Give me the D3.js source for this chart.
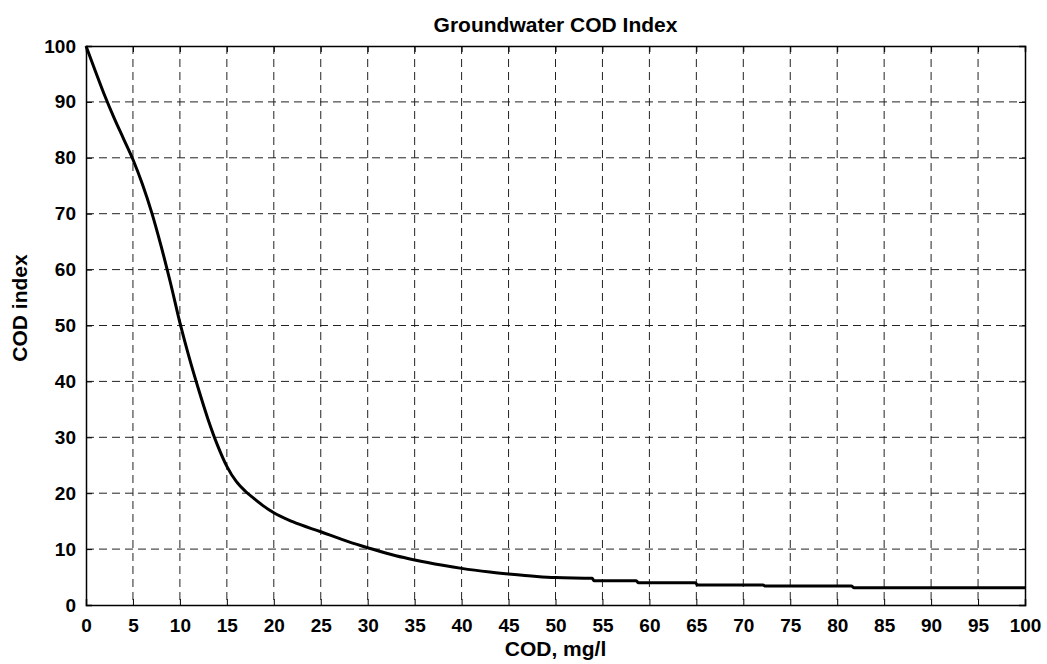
<!DOCTYPE html>
<html><head><meta charset="utf-8">
<script src="https://cdn.jsdelivr.net/npm/d3@7"></script>
<style>body{margin:0;background:#fff;} svg{display:block;} text{font-family:"Liberation Sans",Arial,sans-serif;font-weight:bold;fill:#000;}</style>
</head><body>
<svg id="chart" width="1047" height="664"></svg>
<script>
const codValues = [0,1,2,3,4,5,6,7,8,9,10,11,12,13,14,15,16,17,18,19,20,22,25,28,30,33,35,38,40,43,45,48,50,53.9,54.1,58.6,58.8,64.9,65.1,72.1,72.3,81.5,81.8,100];
const indexValues = [100,95.5,91.1,87.1,83.4,79.7,75.3,70.2,64.2,57.6,50.5,44.2,38.5,33.2,28.6,24.8,22.1,20.3,18.9,17.6,16.5,14.9,13.1,11.3,10.25,8.8,8.05,7.1,6.55,5.9,5.55,5.1,4.9,4.77,4.35,4.35,4.0,4.0,3.6,3.6,3.4,3.4,3.1,3.1];
const xTicks = [0,5,10,15,20,25,30,35,40,45,50,55,60,65,70,75,80,85,90,95,100];
const yTicks = [0,10,20,30,40,50,60,70,80,90,100];
const titleText = "Groundwater COD Index";
const xLabel = "COD, mg/l";
const yLabel = "COD index";

const svg = d3.select("#chart");
const m = {left:86, right:1025, top:46, bottom:605};
const x = d3.scaleLinear().domain([0,100]).range([m.left, m.right]);
const y = d3.scaleLinear().domain([0,100]).range([m.bottom, m.top]);

// grid
const g = svg.append("g");
g.selectAll("line.vg").data(xTicks.slice(1,-1)).join("line")
  .attr("x1", d=>x(d)).attr("x2", d=>x(d)).attr("y1", m.top).attr("y2", m.bottom)
  .attr("stroke","#222").attr("stroke-width",1).attr("stroke-dasharray","8,5");
g.selectAll("line.hg").data(yTicks.slice(1,-1)).join("line")
  .attr("x1", m.left).attr("x2", m.right).attr("y1", d=>y(d)).attr("y2", d=>y(d))
  .attr("stroke","#222").attr("stroke-width",1).attr("stroke-dasharray","8,5");

// axes with inward ticks
const xb = svg.append("g").attr("transform",`translate(0,${m.bottom})`)
  .call(d3.axisBottom(x).tickValues(xTicks).tickSize(-6).tickPadding(14).tickFormat(d3.format("d")));
const xt = svg.append("g").attr("transform",`translate(0,${m.top})`)
  .call(d3.axisTop(x).tickValues(xTicks).tickSize(-6).tickFormat(""));
const yl = svg.append("g").attr("transform",`translate(${m.left},0)`)
  .call(d3.axisLeft(y).tickValues(yTicks).tickSize(-6).tickPadding(10).tickFormat(d3.format("d")));
const yr = svg.append("g").attr("transform",`translate(${m.right},0)`)
  .call(d3.axisRight(y).tickValues(yTicks).tickSize(-6).tickFormat(""));
[xb,xt,yl,yr].forEach(a=>{
  a.select(".domain").attr("stroke","#000").attr("stroke-width",1.5);
  a.selectAll(".tick line").attr("stroke","#000").attr("stroke-width",1);
  a.selectAll("text").style("font-size","19px").style("font-family","Liberation Sans, Arial, sans-serif").style("font-weight","bold").attr("fill","#000");
});

// curve
const line = d3.line().x((d,i)=>x(codValues[i])).y(d=>y(d)).curve(d3.curveMonotoneX);
svg.append("path").datum(indexValues).attr("d", line)
  .attr("fill","none").attr("stroke","#000").attr("stroke-width",3).attr("stroke-linejoin","round");

// labels
svg.append("text").attr("x",(m.left+m.right)/2).attr("y",32).attr("text-anchor","middle")
  .style("font-size","21px").text(titleText);
svg.append("text").attr("x",(m.left+m.right)/2).attr("y",656).attr("text-anchor","middle")
  .style("font-size","21px").text(xLabel);
svg.append("text").attr("transform",`translate(27,308) rotate(-90)`).attr("text-anchor","middle")
  .style("font-size","21px").text(yLabel);
</script>
</body></html>
